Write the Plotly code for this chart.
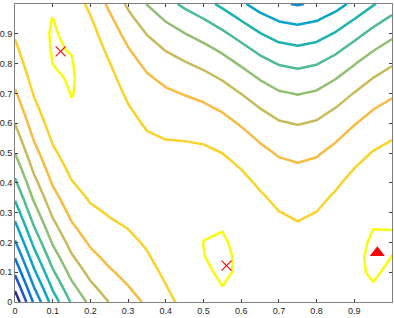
import plotly.graph_objects as go

# grid coordinates (x and y from 0 to 1, step 0.05)
grid_x = [0.0, 0.05, 0.1, 0.15, 0.2, 0.25, 0.3, 0.35, 0.4, 0.45, 0.5,
          0.55, 0.6, 0.65, 0.7, 0.75, 0.8, 0.85, 0.9, 0.95, 1.0]
grid_y = [0.0, 0.05, 0.1, 0.15, 0.2, 0.25, 0.3, 0.35, 0.4, 0.45, 0.5,
          0.55, 0.6, 0.65, 0.7, 0.75, 0.8, 0.85, 0.9, 0.95, 1.0]

# surface values, one list per x column (bottom to top)
col_00 = [308.1, 282.9, 258.8, 235.8, 214.0, 193.3, 173.7, 155.2, 137.9, 121.7, 106.6, 92.6, 79.8, 68.0, 57.4, 48.0, 39.6, 32.4, 26.3, 21.4, 17.5]
col_05 = [233.7, 211.6, 190.6, 170.8, 152.1, 134.5, 118.0, 102.7, 88.5, 75.4, 63.4, 52.6, 42.9, 34.3, 26.9, 20.5, 15.3, 11.2, 8.3, 6.4, 5.7]
col_10 = [174.0, 154.8, 136.8, 119.9, 104.1, 89.4, 75.9, 63.5, 52.2, 42.0, 33.0, 25.0, 18.3, 12.6, 8.0, 4.6, 2.3, 1.2, 1.1, 2.2, 4.4]
col_15 = [130.0, 113.6, 98.2, 84.0, 70.9, 58.9, 48.1, 38.4, 29.8, 22.3, 16.0, 10.8, 6.7, 3.7, 1.9, 1.1, 1.5, 3.1, 5.7, 9.5, 14.4]
col_20 = [100.1, 86.1, 73.2, 61.5, 50.9, 41.4, 33.0, 25.8, 19.7, 14.7, 10.8, 8.1, 6.5, 6.0, 6.6, 8.4, 11.3, 15.3, 20.4, 26.7, 34.1]
col_25 = [80.1, 68.4, 57.8, 48.3, 40.0, 32.7, 26.7, 21.7, 17.8, 15.1, 13.5, 13.0, 13.7, 15.5, 18.4, 22.4, 27.5, 33.8, 41.2, 49.7, 59.4]
col_30 = [65.0, 55.4, 46.8, 39.4, 33.1, 27.9, 23.8, 20.9, 19.1, 18.4, 18.9, 20.5, 23.1, 27.0, 31.9, 38.0, 45.2, 53.5, 62.9, 73.5, 85.2]
col_35 = [50.8, 42.9, 36.2, 30.6, 26.1, 22.8, 20.5, 19.4, 19.5, 20.6, 22.9, 26.3, 30.8, 36.4, 43.2, 51.1, 60.1, 70.3, 81.6, 94.0, 107.5]
col_40 = [35.8, 29.5, 24.4, 20.4, 17.6, 15.8, 15.2, 15.7, 17.3, 20.1, 24.0, 29.0, 35.1, 42.4, 50.7, 60.2, 70.9, 82.6, 95.5, 109.5, 124.6]
col_45 = [21.3, 16.5, 12.7, 10.1, 8.7, 8.3, 9.1, 11.0, 14.0, 18.1, 23.4, 29.8, 37.3, 46.0, 55.8, 66.7, 78.7, 91.8, 106.1, 121.5, 138.0]
col_50 = [10.3, 6.6, 4.1, 2.6, 2.3, 3.2, 5.1, 8.2, 12.4, 17.7, 24.1, 31.7, 40.4, 50.2, 61.1, 73.2, 86.4, 100.7, 116.2, 132.7, 150.4]
col_55 = [5.3, 2.5, 0.9, 0.5, 1.1, 2.9, 5.8, 9.8, 15.0, 21.2, 28.6, 37.2, 46.8, 57.6, 69.5, 82.5, 96.7, 111.9, 128.3, 145.9, 164.5]
col_60 = [6.6, 4.6, 3.8, 4.0, 5.4, 7.9, 11.6, 16.3, 22.2, 29.2, 37.4, 46.6, 57.0, 68.5, 81.1, 94.9, 109.8, 125.8, 142.9, 161.2, 180.6]
col_65 = [12.2, 10.7, 10.4, 11.2, 13.1, 16.1, 20.3, 25.5, 31.9, 39.5, 48.1, 57.9, 68.8, 80.8, 94.0, 108.3, 123.7, 140.2, 157.9, 176.6, 196.6]
col_70 = [18.1, 17.0, 16.9, 18.0, 20.2, 23.5, 28.0, 33.6, 40.3, 48.1, 57.1, 67.2, 78.4, 90.7, 104.2, 118.7, 134.4, 151.3, 169.2, 188.3, 208.5]
col_75 = [20.8, 19.7, 19.8, 20.9, 23.2, 26.6, 31.2, 36.8, 43.6, 51.5, 60.6, 70.7, 82.0, 94.4, 108.0, 122.6, 138.4, 155.3, 173.4, 192.5, 212.8]
col_80 = [18.7, 17.4, 17.3, 18.4, 20.5, 23.8, 28.2, 33.7, 40.4, 48.2, 57.1, 67.1, 78.3, 90.5, 103.9, 118.5, 134.1, 150.9, 168.8, 187.8, 208.0]
col_85 = [13.0, 11.5, 11.0, 11.7, 13.5, 16.4, 20.5, 25.6, 31.9, 39.4, 47.9, 57.6, 68.4, 80.3, 93.4, 107.5, 122.8, 139.3, 156.8, 175.5, 195.3]
col_90 = [7.5, 5.3, 4.3, 4.4, 5.6, 8.0, 11.5, 16.1, 21.8, 28.7, 36.6, 45.7, 56.0, 67.3, 79.8, 93.4, 108.1, 124.0, 141.0, 159.1, 178.3]
col_95 = [6.0, 3.0, 1.2, 0.6, 1.0, 2.6, 5.2, 9.1, 14.0, 20.1, 27.3, 35.6, 45.0, 55.6, 67.3, 80.1, 94.0, 109.1, 125.3, 142.6, 161.0]
col_100 = [11.0, 7.0, 4.2, 2.5, 1.9, 2.5, 4.2, 7.0, 10.9, 16.0, 22.2, 29.5, 37.9, 47.5, 58.2, 70.0, 82.9, 97.0, 112.1, 128.4, 145.9]

# contour levels
level_start = 2.4
level_end = 289.5
level_step = 26.1

# marked points
cross_x = [0.121, 0.561]
cross_y = [0.841, 0.122]
tri_x = [0.961]
tri_y = [0.165]

tick_vals = [0, 0.1, 0.2, 0.3, 0.4, 0.5, 0.6, 0.7, 0.8, 0.9, 1]
tick_text = ["0", "0.1", "0.2", "0.3", "0.4", "0.5", "0.6", "0.7", "0.8", "0.9", "1"]

z_cols = [col_00, col_05, col_10, col_15, col_20, col_25, col_30, col_35, col_40,
          col_45, col_50, col_55, col_60, col_65, col_70, col_75, col_80, col_85,
          col_90, col_95, col_100]

# parula-like colours, from the highest contour (yellow) to the lowest (navy)
level_colors = ["#f9fb0e", "#fad32a", "#f8bb44", "#c8bb5d", "#91bf73", "#4dbc92",
                "#1db3af", "#06a4ca", "#1389d3", "#0871de", "#1f53d4", "#352a87"]
n = len(level_colors)
cscale = [[i / (n - 1), c] for i, c in enumerate(level_colors)]

fig = go.Figure()
fig.add_trace(go.Contour(
    x=grid_x, y=grid_y, z=z_cols, transpose=True,
    contours=dict(start=level_start, end=level_end + 0.1, size=level_step,
                  coloring="lines", showlabels=False),
    colorscale=cscale, showscale=False,
    line=dict(width=2.5, smoothing=0),
    hoverinfo="skip",
))
fig.add_trace(go.Scatter(
    x=cross_x, y=cross_y, mode="markers",
    marker=dict(symbol="x-thin-open", size=10, color="red",
                line=dict(width=1.1, color="red")),
    marker_line_color="red",
    hoverinfo="skip", showlegend=False,
))
fig.add_trace(go.Scatter(
    x=tri_x, y=tri_y, mode="markers",
    marker=dict(symbol="triangle-up", size=13, color="#ff0000",
                line=dict(width=0, color="#ff0000")),
    hoverinfo="skip", showlegend=False,
))

axis_common = dict(
    range=[0, 1], tickvals=tick_vals, ticktext=tick_text,
    ticks="inside", ticklen=3, tickwidth=1, tickcolor="#404040",
    showline=True, linecolor="#808080", linewidth=1, mirror="ticks",
    showgrid=False, zeroline=False,
    tickfont=dict(family="Liberation Sans, Arial, sans-serif", size=9, color="#262626"),
)
fig.update_layout(
    width=394, height=318,
    margin=dict(l=15, r=2, t=4, b=16, autoexpand=False),
    paper_bgcolor="white", plot_bgcolor="white",
    showlegend=False,
    xaxis=dict(**axis_common),
    yaxis=dict(**axis_common),
)
fig.write_html("out.html", config={"displayModeBar": False},
               post_script="document.body.style.margin='0px';")
